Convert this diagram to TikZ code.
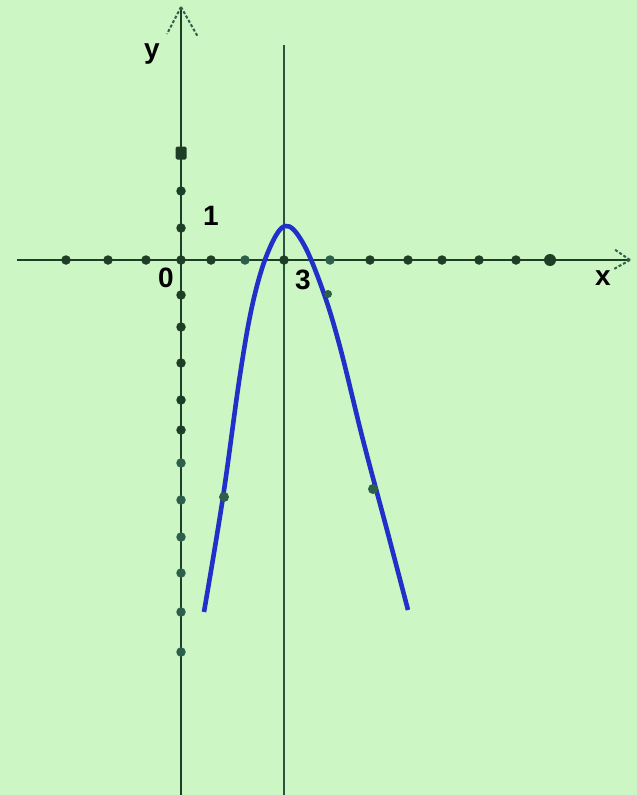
\documentclass[tikz,border=0pt]{standalone}
\usepackage{fontspec}
\setmainfont{Liberation Sans}
\definecolor{bg}{RGB}{204,246,196}
\definecolor{axdark}{RGB}{30,62,38}
\definecolor{axteal}{RGB}{45,95,75}
\definecolor{curveblue}{RGB}{32,48,200}
\begin{document}
\begin{tikzpicture}[x=1pt,y=-1pt,
  axis/.style={draw=axdark,line width=2.4pt},
  tipline/.style={draw=axteal,line width=2pt,dash pattern=on 3pt off 2pt},
  dotd/.style={circle,fill=axdark,inner sep=0pt,minimum size=9.5pt},
  dott/.style={circle,fill=axteal,inner sep=0pt,minimum size=9.5pt},
  bigdot/.style={circle,fill=axdark,inner sep=0pt,minimum size=12pt},
  lbl/.style={font=\fontsize{28}{28}\selectfont\bfseries,text=black,inner sep=0pt,anchor=base},
  curve/.style={draw=curveblue,line width=4.6pt,line join=round}]
\fill[bg] (0,0) rectangle (637,795);
\useasboundingbox (0,0) rectangle (637,795);
% axis endpoints
\coordinate (xl) at (17,260);
\coordinate (xr) at (630,260);
\coordinate (yt) at (181,7);
\coordinate (yb) at (181,795);
\coordinate (vt) at (284,45);
\coordinate (vb) at (284,795);
\coordinate (xa1) at (614,249);
\coordinate (xa2) at (614,269);
\coordinate (ya1) at (167,34);
\coordinate (ya2) at (198,37);
% axes
\draw[axis] (xl) -- (xr);
\draw[axis] (yt) -- (yb);
\draw[axis,draw=axteal!70!axdark] (vt) -- (vb);
\draw[tipline] (xr) -- (xa1);
\draw[tipline] (xr) -- (xa2);
\draw[tipline] (yt) -- (ya1);
\draw[tipline] (yt) -- (ya2);
% x-axis dots
\foreach \x/\s [count=\i] in {66/dotd,108/dotd,146/dotd,181/dotd,211/dotd,245/dott,284/dotd,330/dott,370/dotd,408/dotd,442/dotd,479/dotd,516/dotd}
  \node[\s] (xd\i) at (\x,260) {};
\node[bigdot] (xdend) at (550,260) {};
% y-axis dots
\node[bigdot,rounded corners=1.5pt,rectangle,minimum width=11pt,minimum height=13pt] (ydtop) at (181,153) {};
\foreach \y/\s [count=\i] in {191/dotd,228/dotd,295/dotd,327/dotd,363/dotd,400/dotd,430/dotd,463/dott,500/dott,537/dott,573/dott,612/dott,652/dott}
  \node[\s] (yd\i) at (181,\y) {};
% parabola
\draw[curve] plot[smooth,tension=0.6] coordinates {(204,612) (223,497) (240,375) (253,302) (268,252) (285,226) (303,243) (323,291) (340,347) (363,440) (387,530) (408,610)};
% dots on curve
\node[dott,minimum size=10pt] (c1) at (224,497) {};
\node[dott,minimum size=10pt] (c2) at (373,489) {};
\node[dott,minimum size=8pt] (c3) at (328,294) {};
% labels
\node[lbl] (ly) at (152,58) {y};
\node[lbl] (l1) at (211,225) {1};
\node[lbl] (l0) at (166,287) {0};
\node[lbl] (l3) at (303,289) {3};
\node[lbl] (lx) at (603,285) {x};
\end{tikzpicture}
\end{document}
